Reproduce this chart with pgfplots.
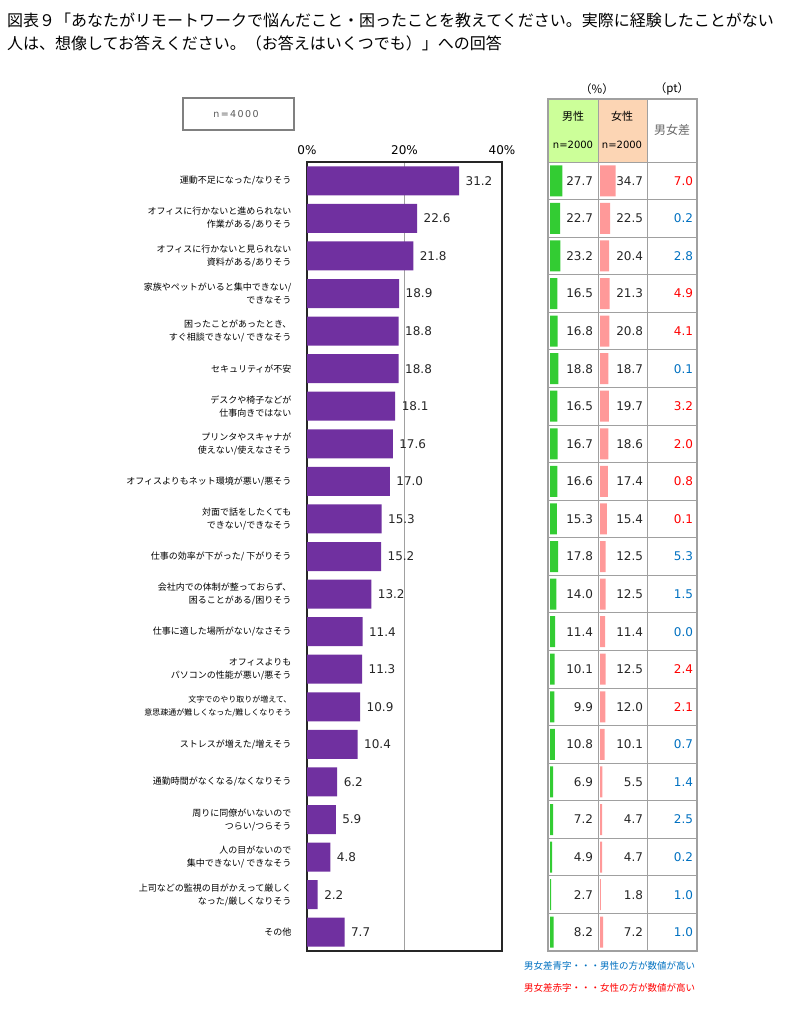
\documentclass[border=0pt]{standalone}
\usepackage{pgfplots}
\pgfplotsset{compat=1.18}
\usepackage{fontspec}
\setmainfont{DejaVu Sans}
\newfontfamily\jp{Noto Sans CJK JP}
\definecolor{barpurple}{HTML}{7030A0}
\definecolor{mgreen}{HTML}{33CC33}
\definecolor{fpink}{HTML}{FF9999}
\definecolor{hgreen}{HTML}{CCFF99}
\definecolor{hpink}{HTML}{FCD5B4}
\definecolor{tred}{HTML}{FF0000}
\definecolor{tblue}{HTML}{0070C0}
\definecolor{gridgray}{HTML}{A0A0A0}
\begin{document}
\begin{tikzpicture}[x=1pt,y=1pt]
\useasboundingbox (0,0) rectangle (810,-1030);
% title
\node[anchor=west, inner sep=0pt, font=\jp\fontsize{16}{20}\selectfont] at (7,-20) {図表９「あなたがリモートワークで悩んだこと・困ったことを教えてください。実際に経験したことがない};
\node[anchor=west, inner sep=0pt, font=\jp\fontsize{16}{20}\selectfont] at (7,-43) {人は、想像してお答えください。（お答えはいくつでも）」への回答};
% n box
\draw[gray, line width=1.5pt] (183,-98) rectangle (294,-130);
\node[text=black!65, font=\fontsize{9.5}{11}\selectfont\addfontfeature{LetterSpace=15}] at (236,-114) {n=4000};
% table header fills
\fill[hgreen] (548,-99) rectangle (598,-162);
\fill[hpink] (598,-99) rectangle (647,-162);
\node[font=\jp\fontsize{11}{13}\selectfont] at (573,-116) {男性};
\node[font=\fontsize{10}{12}\selectfont] at (573,-145) {n=2000};
\node[font=\jp\fontsize{11}{13}\selectfont] at (622,-116) {女性};
\node[font=\fontsize{10}{12}\selectfont] at (622,-145) {n=2000};
\node[font=\jp\fontsize{12}{14}\selectfont, text=black!60] at (672,-130) {男女差};
\node[font=\jp\fontsize{11.5}{13}\selectfont] at (597,-89) {（\%）};
\node[font=\jp\fontsize{11.5}{13}\selectfont] at (672,-89) {（pt）};
% main axis
\begin{axis}[
  at={(307pt,-162pt)}, anchor=north west,
  scale only axis, width=195pt, height=789pt,
  xmin=0, xmax=40, ymin=-0.5, ymax=20.5, y dir=reverse,
  xtick={0,20,40}, xticklabels={0\%,20\%,40\%},
  xticklabel pos=right,
  xticklabel style={font=\fontsize{12}{14}\selectfont, yshift=4pt},
  ytick={0,...,20},
  yticklabels={
    {運動不足になった/なりそう},
    {オフィスに行かないと進められない\\作業がある/ありそう},
    {オフィスに行かないと見られない\\資料がある/ありそう},
    {家族やペットがいると集中できない/\\できなそう},
    {困ったことがあったとき、\\すぐ相談できない/ できなそう},
    {セキュリティが不安},
    {デスクや椅子などが\\仕事向きではない},
    {プリンタやスキャナが\\使えない/使えなさそう},
    {オフィスよりもネット環境が悪い/悪そう},
    {対面で話をしたくても\\できない/できなそう},
    {仕事の効率が下がった/ 下がりそう},
    {会社内での体制が整っておらず、\\困ることがある/困りそう},
    {仕事に適した場所がない/なさそう},
    {オフィスよりも\\パソコンの性能が悪い/悪そう},
    {\fontsize{8}{12.5}\selectfont 文字でのやり取りが増えて、\\\fontsize{8}{12.5}\selectfont 意思疎通が難しくなった/難しくなりそう},
    {ストレスが増えた/増えそう},
    {通勤時間がなくなる/なくなりそう},
    {周りに同僚がいないので\\つらい/つらそう},
    {人の目がないので\\集中できない/ できなそう},
    {上司などの監視の目がかえって厳しく\\なった/厳しくなりそう},
    {その他}},
  yticklabel style={font=\jp\fontsize{9}{13}\selectfont, align=right, xshift=-12pt},
  major tick length=0pt,
  xmajorgrids, grid style={color=gridgray, line width=1pt},
  axis line style={black!85, line width=1.3pt},
  /pgf/number format/assume math mode=true,
  clip=false,
]
\addplot[xbar, bar width=29pt, fill=barpurple, draw=none,
  point meta=x,
  nodes near coords={\pgfmathprintnumber[fixed,fixed zerofill,precision=1]{\pgfplotspointmeta}},
  every node near coord/.append style={font=\fontsize{12}{14}\selectfont, text=black!85, xshift=3pt}]
coordinates {
(31.2,0) (22.6,1) (21.8,2) (18.9,3) (18.8,4) (18.8,5) (18.1,6) (17.6,7) (17.0,8) (15.3,9)
(15.2,10) (13.2,11) (11.4,12) (11.3,13) (10.9,14) (10.4,15) (6.2,16) (5.9,17) (4.8,18) (2.2,19) (7.7,20)};
\end{axis}
% male bars
\begin{axis}[
  at={(550pt,-162pt)}, anchor=north west,
  scale only axis, width=45pt, height=789pt,
  xmin=0, xmax=100, ymin=-0.5, ymax=20.5, y dir=reverse,
  hide axis, clip=false]
\addplot[xbar, bar width=31pt, fill=mgreen, draw=none] coordinates {
(27.7,0) (22.7,1) (23.2,2) (16.5,3) (16.8,4) (18.8,5) (16.5,6) (16.7,7) (16.6,8) (15.3,9)
(17.8,10) (14.0,11) (11.4,12) (10.1,13) (9.9,14) (10.8,15) (6.9,16) (7.2,17) (4.9,18) (2.7,19) (8.2,20)};
\end{axis}
% female bars
\begin{axis}[
  at={(600pt,-162pt)}, anchor=north west,
  scale only axis, width=45pt, height=789pt,
  xmin=0, xmax=100, ymin=-0.5, ymax=20.5, y dir=reverse,
  hide axis, clip=false]
\addplot[xbar, bar width=31pt, fill=fpink, draw=none] coordinates {
(34.7,0) (22.5,1) (20.4,2) (21.3,3) (20.8,4) (18.7,5) (19.7,6) (18.6,7) (17.4,8) (15.4,9)
(12.5,10) (12.5,11) (11.4,12) (12.5,13) (12.0,14) (10.1,15) (5.5,16) (4.7,17) (4.7,18) (1.8,19) (7.2,20)};
\end{axis}
% table labels
\begin{axis}[
  at={(548pt,-162pt)}, anchor=north west,
  scale only axis, width=149pt, height=789pt,
  xmin=0, xmax=149, ymin=-0.5, ymax=20.5, y dir=reverse,
  hide axis, clip=false]
\addplot[draw=none, mark=none, nodes near coords, point meta=explicit symbolic,
  every node near coord/.append style={anchor=east, font=\fontsize{12}{14}\selectfont, text=black!85}]
coordinates {
(48.5,0)[27.7] (48.5,1)[22.7] (48.5,2)[23.2] (48.5,3)[16.5] (48.5,4)[16.8] (48.5,5)[18.8] (48.5,6)[16.5]
(48.5,7)[16.7] (48.5,8)[16.6] (48.5,9)[15.3] (48.5,10)[17.8] (48.5,11)[14.0] (48.5,12)[11.4] (48.5,13)[10.1]
(48.5,14)[9.9] (48.5,15)[10.8] (48.5,16)[6.9] (48.5,17)[7.2] (48.5,18)[4.9] (48.5,19)[2.7] (48.5,20)[8.2]};
\addplot[draw=none, mark=none, nodes near coords, point meta=explicit symbolic,
  every node near coord/.append style={anchor=east, font=\fontsize{12}{14}\selectfont, text=black!85}]
coordinates {
(98.5,0)[34.7] (98.5,1)[22.5] (98.5,2)[20.4] (98.5,3)[21.3] (98.5,4)[20.8] (98.5,5)[18.7] (98.5,6)[19.7]
(98.5,7)[18.6] (98.5,8)[17.4] (98.5,9)[15.4] (98.5,10)[12.5] (98.5,11)[12.5] (98.5,12)[11.4] (98.5,13)[12.5]
(98.5,14)[12.0] (98.5,15)[10.1] (98.5,16)[5.5] (98.5,17)[4.7] (98.5,18)[4.7] (98.5,19)[1.8] (98.5,20)[7.2]};
% diff: red (female higher)
\addplot[draw=none, mark=none, nodes near coords, point meta=explicit symbolic,
  every node near coord/.append style={anchor=east, font=\fontsize{12}{14}\selectfont, text=tred}]
coordinates {
(148.5,0)[7.0] (148.5,3)[4.9] (148.5,4)[4.1] (148.5,6)[3.2] (148.5,7)[2.0] (148.5,8)[0.8] (148.5,9)[0.1]
(148.5,13)[2.4] (148.5,14)[2.1]};
% diff: blue (male higher)
\addplot[draw=none, mark=none, nodes near coords, point meta=explicit symbolic,
  every node near coord/.append style={anchor=east, font=\fontsize{12}{14}\selectfont, text=tblue}]
coordinates {
(148.5,1)[0.2] (148.5,2)[2.8] (148.5,5)[0.1] (148.5,10)[5.3] (148.5,11)[1.5] (148.5,12)[0.0]
(148.5,15)[0.7] (148.5,16)[1.4] (148.5,17)[2.5] (148.5,18)[0.2] (148.5,19)[1.0] (148.5,20)[1.0]};
\end{axis}
% table grid
\foreach \k in {0,...,20} {
  \draw[gridgray, line width=1pt] (548,{-162-\k*789/21}) -- (697,{-162-\k*789/21});
}
\draw[gridgray, line width=1pt] (598,-99) -- (598,-951);
\draw[gridgray, line width=1pt] (647,-99) -- (647,-951);
\draw[gridgray, line width=2pt] (548,-99) rectangle (697,-951);
% notes
\node[anchor=west, inner sep=0pt, font=\jp\fontsize{9.5}{11}\selectfont, text=tblue] at (524,-966) {男女差青字・・・男性の方が数値が高い};
\node[anchor=west, inner sep=0pt, font=\jp\fontsize{9.5}{11}\selectfont, text=tred] at (524,-988) {男女差赤字・・・女性の方が数値が高い};
\end{tikzpicture}
\end{document}
